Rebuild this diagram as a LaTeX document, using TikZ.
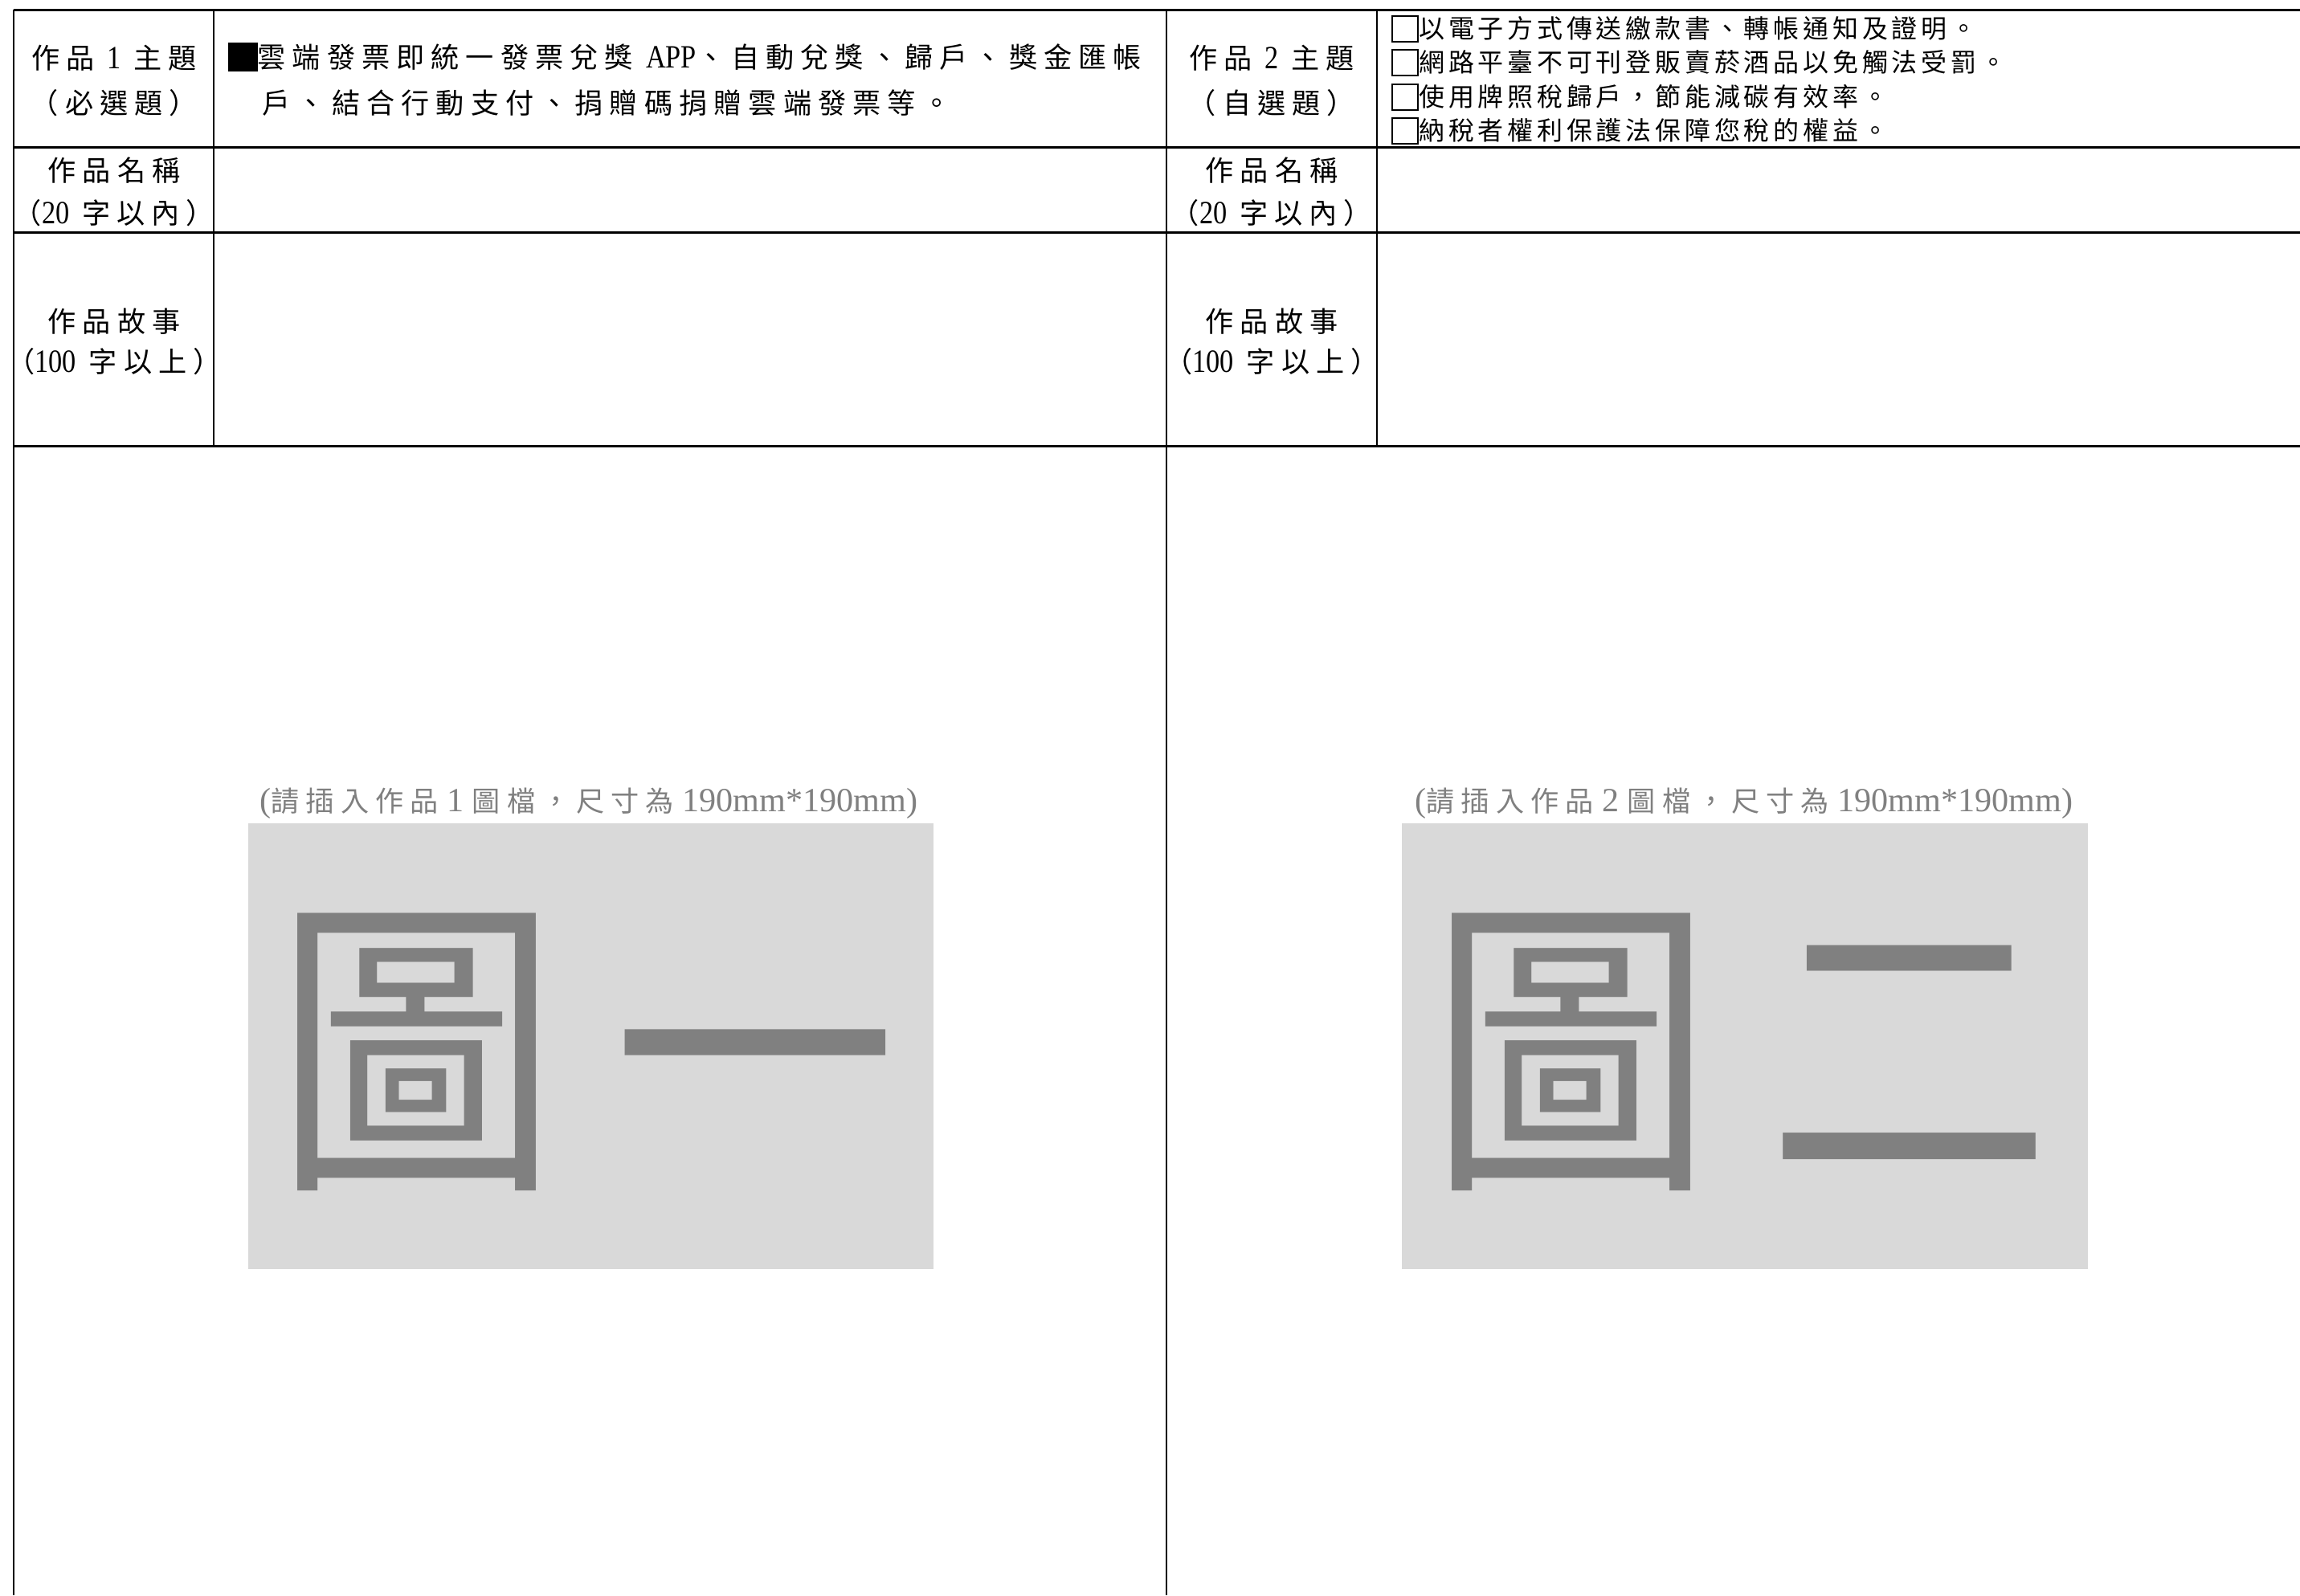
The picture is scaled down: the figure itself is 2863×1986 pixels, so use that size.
\documentclass[tikz,border=0pt]{standalone}
\usepackage{fontspec}
\setmainfont{Liberation Serif}
\newfontfamily\cjk[LetterSpace=23]{Noto Sans CJK TC}
\newfontfamily\cjksm[LetterSpace=15]{Noto Sans CJK TC}
\newfontfamily\cjkbig[FakeStretch=0.9]{Noto Sans CJK TC}
\newfontfamily\ltnarrow[FakeStretch=0.85]{Liberation Serif}
\definecolor{capgray}{RGB}{128,128,128}
\definecolor{boxgray}{RGB}{217,217,217}
\newcommand{\blk}{\rule[-0.15em]{1.05em}{1.05em}}
\newcommand{\cbox}{{\setlength{\fboxsep}{0pt}\setlength{\fboxrule}{0.6pt}\fbox{\rule[-0.12em]{0pt}{0.95em}\hspace{0.95em}}}}
\newcommand{\zh}[1]{{\cjk\fontsize{10}{12}\selectfont #1}}
\newcommand{\lt}[1]{{\ltnarrow\fontsize{11.5}{12}\selectfont #1}}
\tikzset{
	hline/.style={line width=0.3mm},
	vline/.style={line width=0.2mm},
	lab/.style={font=\cjk\fontsize{10}{12}\selectfont, inner sep=0pt},
	opt/.style={font=\cjksm\fontsize{9.1}{11}\selectfont, anchor=west, inner sep=0pt},
	captext/.style={font=\fontsize{12}{14}\selectfont, text=capgray, inner sep=0pt},
	bigtext/.style={font=\cjkbig\fontsize{112}{120}\selectfont, text=capgray, inner sep=0pt, anchor=west}
}

\begin{document}
\begin{tikzpicture}[x=0.1mm, y=-0.1mm]
				\useasboundingbox (0,0) rectangle (2863,1986);
				
				\draw[hline] (17,12) -- (2863,12);
				\draw[hline] (17,183) -- (2863,183);
				\draw[hline] (17,289) -- (2863,289);
				\draw[hline] (17,555) -- (2863,555);
				
				\draw[vline] (17,12) -- (17,1986);
				\draw[vline] (266,12) -- (266,555);
				\draw[vline] (1452,12) -- (1452,1986);
				\draw[vline] (1714,12) -- (1714,555);
				
				\node[lab] (topic1) at (142,72) {作品 \lt{1} 主題};
				\node[lab] (topic1sub) at (142,128) {（必選題）};
				\node[lab] (name1) at (142,212) {作品名稱};
				\node[lab] (name1sub) at (142,265) {（\lt{20} 字以內）};
				\node[lab] (story1) at (142,400) {作品故事};
				\node[lab] (story1sub) at (142,450) {（\lt{100} 字以上）};
				
				\node[lab, anchor=west] (body1a) at (283,71) {\blk 雲端發票即統一發票兌獎 \lt{APP}、自動兌獎、歸戶、獎金匯帳};
				\node[lab, anchor=west] (body1b) at (326,128) {戶、結合行動支付、捐贈碼捐贈雲端發票等。};
				
				\node[lab] (topic2) at (1583,72) {作品 \lt{2} 主題};
				\node[lab] (topic2sub) at (1583,128) {（自選題）};
				\node[lab] (name2) at (1583,212) {作品名稱};
				\node[lab] (name2sub) at (1583,265) {（\lt{20} 字以內）};
				\node[lab] (story2) at (1583,400) {作品故事};
				\node[lab] (story2sub) at (1583,450) {（\lt{100} 字以上）};
				
				\node[opt] (opt1) at (1731,36) {\cbox 以電子方式傳送繳款書、轉帳通知及證明。};
				\node[opt] (opt2) at (1731,78) {\cbox 網路平臺不可刊登販賣菸酒品以免觸法受罰。};
				\node[opt] (opt3) at (1731,121) {\cbox 使用牌照稅歸戶，節能減碳有效率。};
				\node[opt] (opt4) at (1731,163) {\cbox 納稅者權利保護法保障您稅的權益。};
				
				\node[captext] (cap1) at (733,1000) {(\zh{請插入作品} 1 \zh{圖檔，尺寸為} 190mm*190mm)};
				\fill[boxgray] (309,1025) rectangle (1162,1580);
				\node[bigtext] (pic1) at (341,1310) {圖\kern0.17em 一};
				
				\node[captext] (cap2) at (2171,1000) {(\zh{請插入作品} 2 \zh{圖檔，尺寸為} 190mm*190mm)};
				\fill[boxgray] (1745,1025) rectangle (2599,1580);
				\node[bigtext] (pic2) at (1778,1310) {圖\kern0.17em 二};
\end{tikzpicture}
\end{document}
